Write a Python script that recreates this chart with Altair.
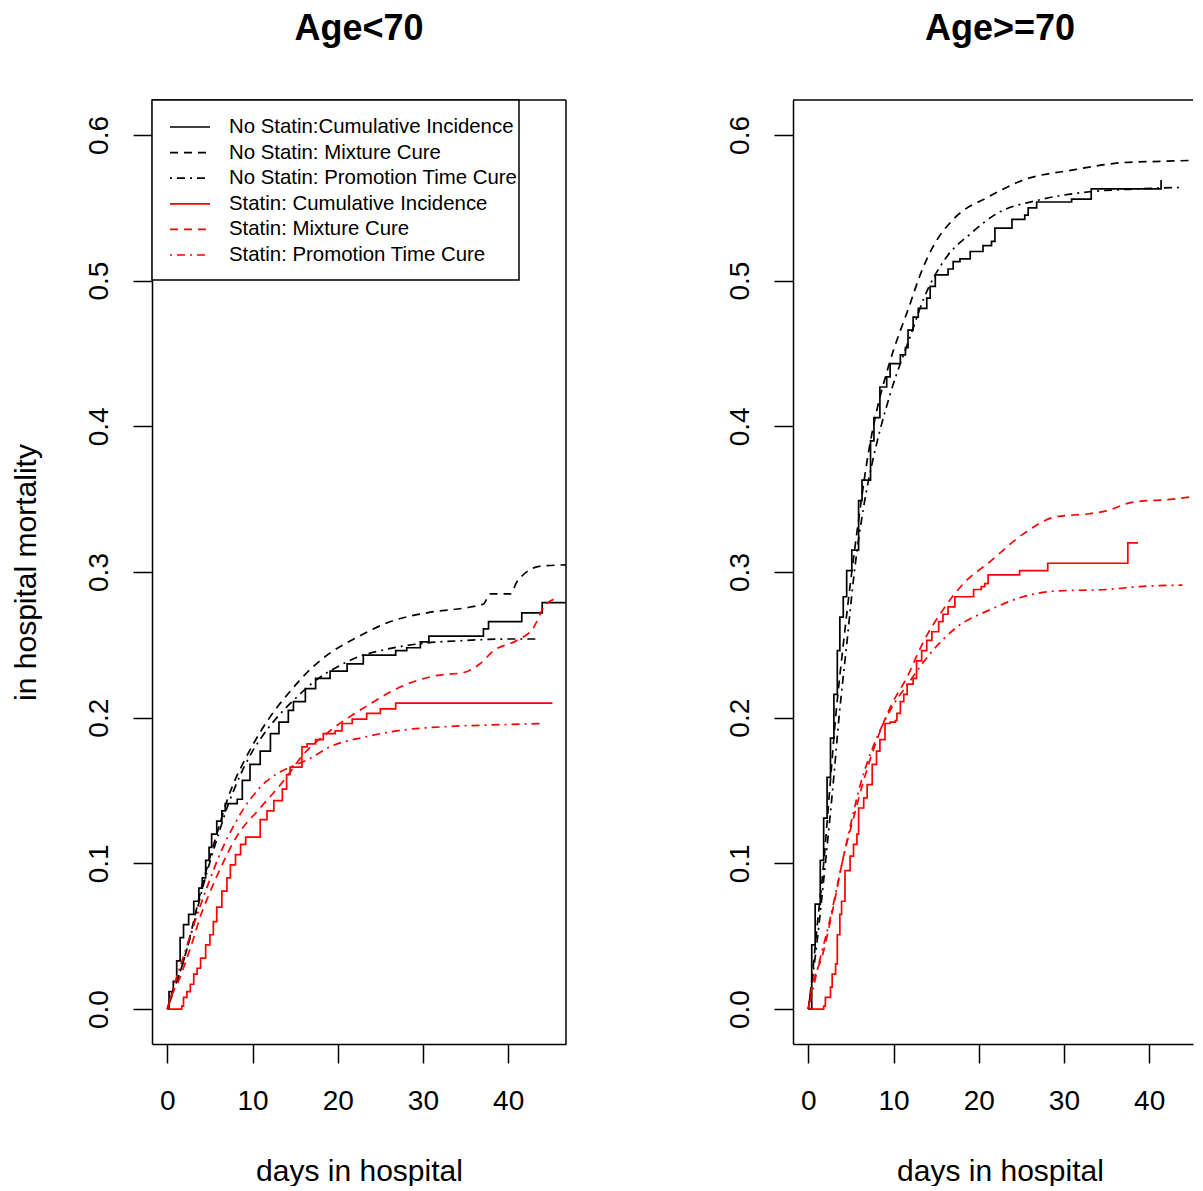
import altair as alt
import pandas as pd

FONT = "Liberation Sans"

SERIES = [
    "No Statin:Cumulative Incidence",
    "No Statin: Mixture Cure",
    "No Statin: Promotion Time Cure",
    "Statin: Cumulative Incidence",
    "Statin: Mixture Cure",
    "Statin: Promotion Time Cure",
]
COLORS = ["black", "black", "black", "red", "red", "red"]
DASHES = [[1, 0], [8, 6], [2, 5, 8, 5], [1, 0], [8, 6], [2, 5, 8, 5]]
STEP_SERIES = [SERIES[0], SERIES[3]]
PANELS = ["Age<70", "Age>=70"]
X_TICKS = [0, 10, 20, 30, 40]
Y_TICKS = [0.0, 0.1, 0.2, 0.3, 0.4, 0.5, 0.6]

# ---------------- Age<70 ----------------
y_ns_ci_day = [0, 0.2, 0.7, 1.1, 1.5, 1.9, 2.5, 3.1, 3.7, 4.1, 4.5, 4.9, 5.2, 5.8, 6.4, 6.8, 8.2, 8.8,
               9.7, 10.9, 12.1, 13.1, 14.2, 14.8, 16.2, 17.4, 19.1, 21.1, 23.0, 26.8, 28.1, 29.7, 30.7,
               37.1, 37.7, 41.6, 44.0, 47.5]
y_ns_ci_val = [0, 0.012, 0.019, 0.033, 0.049, 0.058, 0.065, 0.074, 0.083, 0.090, 0.102, 0.111, 0.120,
               0.129, 0.136, 0.141, 0.144, 0.157, 0.168, 0.177, 0.189, 0.197, 0.205, 0.211, 0.220, 0.227,
               0.232, 0.237, 0.243, 0.246, 0.248, 0.252, 0.256, 0.261, 0.266, 0.272, 0.279, 0.279]

y_ns_mix_day = [0, 0.5, 1.3, 2, 3, 4, 5, 6, 7, 8, 9, 10, 11, 12, 13, 14.4, 16.4, 19, 21.9, 26.2, 30.5,
                35.6, 37.1, 37.9, 40.3, 41.0, 43.8, 47.5]
y_ns_mix_val = [0, 0.01, 0.022, 0.035, 0.058, 0.083, 0.104, 0.124, 0.143, 0.158, 0.170, 0.181, 0.191,
                0.200, 0.208, 0.218, 0.231, 0.244, 0.254, 0.266, 0.272, 0.276, 0.278, 0.285, 0.285, 0.293,
                0.304, 0.305]

y_ns_ptc_day = [0, 1, 2, 3, 4, 5, 6, 7, 8, 9, 10, 11, 12, 13, 15, 17.5, 20, 22.5, 25, 27.5, 30, 35, 40, 43.6]
y_ns_ptc_val = [0, 0.017, 0.035, 0.056, 0.080, 0.101, 0.120, 0.138, 0.153, 0.166, 0.177, 0.186, 0.194,
                0.201, 0.213, 0.226, 0.235, 0.242, 0.246, 0.249, 0.251, 0.253, 0.254, 0.254]

y_s_ci_day = [0, 1.7, 1.9, 2.3, 2.7, 3.1, 3.5, 3.9, 4.5, 5.0, 5.4, 5.8, 6.4, 7.0, 7.4, 8.0, 8.6, 9.2,
              10.9, 11.7, 12.5, 13.5, 14.0, 14.4, 15.8, 16.4, 17.4, 18.3, 19.7, 20.5, 21.7, 23.4, 25.0,
              26.8, 45.2]
y_s_ci_val = [0, 0.002, 0.008, 0.012, 0.017, 0.024, 0.028, 0.035, 0.044, 0.051, 0.060, 0.070, 0.081,
              0.090, 0.099, 0.106, 0.113, 0.118, 0.130, 0.136, 0.143, 0.151, 0.161, 0.166, 0.180, 0.182,
              0.185, 0.189, 0.191, 0.196, 0.199, 0.203, 0.206, 0.210, 0.210]

y_s_mix_day = [0, 0.7, 1.3, 2.3, 3.1, 3.9, 4.7, 5.8, 8.2, 10.9, 13.7, 16.0, 19.1, 23.4, 27.7, 31.7, 34.8,
               36.7, 38.3, 41.0, 43.0, 44.2, 45.7]
y_s_mix_val = [0, 0.012, 0.019, 0.035, 0.049, 0.064, 0.076, 0.091, 0.119, 0.138, 0.157, 0.175, 0.191,
               0.208, 0.222, 0.229, 0.231, 0.237, 0.246, 0.253, 0.262, 0.276, 0.282]

y_s_ptc_day = [0, 1, 2, 3, 4, 5, 6, 7, 8, 9, 10, 11, 12, 13, 14.4, 16.4, 19.1, 23.4, 27, 33.2, 38, 44.2]
y_s_ptc_val = [0, 0.02, 0.038, 0.056, 0.073, 0.089, 0.104, 0.117, 0.128, 0.138, 0.146, 0.153, 0.158,
               0.162, 0.166, 0.171, 0.180, 0.187, 0.191, 0.194, 0.195, 0.196]

# ---------------- Age>=70 ----------------
o_ns_ci_day = [0, 0.4, 0.8, 1.4, 1.8, 2.2, 2.6, 3.0, 3.4, 3.7, 4.1, 4.5, 5.1, 5.9, 6.3, 7.3, 7.7, 8.4,
               9.2, 9.6, 10.8, 11.4, 11.7, 12.3, 12.9, 13.9, 14.3, 14.9, 16.4, 17.0, 17.8, 19.0, 20.5,
               21.5, 21.9, 23.9, 25.4, 25.8, 26.8, 30.9, 33.2, 41.4]
o_ns_ci_val = [0, 0.044, 0.072, 0.102, 0.131, 0.159, 0.186, 0.216, 0.246, 0.269, 0.283, 0.301, 0.315,
               0.349, 0.363, 0.390, 0.406, 0.427, 0.434, 0.443, 0.449, 0.454, 0.466, 0.475, 0.481, 0.488,
               0.496, 0.504, 0.508, 0.513, 0.515, 0.520, 0.524, 0.527, 0.536, 0.542, 0.545, 0.550, 0.554,
               0.556, 0.563, 0.569]

o_ns_mix_day = [0, 0.5, 1, 1.8, 2.5, 3.2, 4.1, 5.1, 6, 7, 8, 9.4, 12, 13, 14, 15, 17, 21.3, 25.2, 31.1,
                36.9, 42, 47.5]
o_ns_mix_val = [0, 0.025, 0.055, 0.1, 0.15, 0.2, 0.25, 0.3, 0.34, 0.38, 0.41, 0.441, 0.485, 0.502, 0.516,
                0.527, 0.542, 0.558, 0.569, 0.576, 0.581, 0.582, 0.583]

o_ns_ptc_day = [0, 1, 2, 3, 3.6, 4.5, 5.4, 6.5, 7.5, 8.4, 9.6, 12.1, 13.5, 16.2, 19, 22.1, 26.8, 33,
                38.9, 43.9]
o_ns_ptc_val = [0, 0.045, 0.1, 0.16, 0.2, 0.25, 0.3, 0.345, 0.375, 0.397, 0.422, 0.464, 0.487, 0.516,
                0.532, 0.546, 0.555, 0.561, 0.563, 0.564]

o_s_ci_day = [0, 1.8, 2.0, 2.6, 2.8, 3.2, 3.4, 3.7, 3.9, 4.3, 4.9, 5.3, 5.7, 5.9, 6.5, 6.9, 7.5, 8.0,
              8.4, 9.0, 9.6, 10.2, 10.4, 10.8, 11.2, 11.6, 12.3, 12.7, 13.3, 13.9, 14.5, 15.3, 15.8,
              16.4, 17.2, 19.4, 20.3, 20.7, 21.1, 24.8, 28.1, 37.5, 38.7]
o_s_ci_val = [0, 0.002, 0.008, 0.015, 0.024, 0.031, 0.051, 0.065, 0.074, 0.095, 0.105, 0.113, 0.120,
              0.138, 0.145, 0.154, 0.168, 0.177, 0.185, 0.196, 0.197, 0.198, 0.203, 0.211, 0.216, 0.223,
              0.227, 0.239, 0.246, 0.253, 0.259, 0.266, 0.271, 0.276, 0.283, 0.288, 0.290, 0.292, 0.298,
              0.301, 0.306, 0.320, 0.320]

o_s_mix_day = [0, 0.2, 1.8, 3.0, 4.1, 5.3, 6.5, 8.0, 9.6, 11.6, 13.5, 15.8, 18.2, 21.3, 25.2, 29.1,
               33.0, 35.0, 38.1, 42.8, 47.5]
o_s_mix_val = [0, 0.008, 0.040, 0.072, 0.104, 0.131, 0.157, 0.184, 0.207, 0.228, 0.252, 0.274, 0.292,
               0.307, 0.326, 0.338, 0.340, 0.342, 0.348, 0.350, 0.354]

o_s_ptc_day = [0, 1.4, 2.6, 3.7, 4.9, 6.1, 7.6, 9.6, 11.9, 14.3, 17.4, 21.3, 25.2, 29.1, 35.0, 38.9, 43.9]
o_s_ptc_val = [0, 0.035, 0.063, 0.093, 0.125, 0.154, 0.180, 0.205, 0.225, 0.244, 0.262, 0.274, 0.283,
               0.287, 0.288, 0.290, 0.291]

CURVES = [
    (PANELS[0], SERIES[0], y_ns_ci_day, y_ns_ci_val),
    (PANELS[0], SERIES[1], y_ns_mix_day, y_ns_mix_val),
    (PANELS[0], SERIES[2], y_ns_ptc_day, y_ns_ptc_val),
    (PANELS[0], SERIES[3], y_s_ci_day, y_s_ci_val),
    (PANELS[0], SERIES[4], y_s_mix_day, y_s_mix_val),
    (PANELS[0], SERIES[5], y_s_ptc_day, y_s_ptc_val),
    (PANELS[1], SERIES[0], o_ns_ci_day, o_ns_ci_val),
    (PANELS[1], SERIES[1], o_ns_mix_day, o_ns_mix_val),
    (PANELS[1], SERIES[2], o_ns_ptc_day, o_ns_ptc_val),
    (PANELS[1], SERIES[3], o_s_ci_day, o_s_ci_val),
    (PANELS[1], SERIES[4], o_s_mix_day, o_s_mix_val),
    (PANELS[1], SERIES[5], o_s_ptc_day, o_s_ptc_val),
]

rows = []
for panel_name, s, days, vals in CURVES:
    for i, (d, v) in enumerate(zip(days, vals)):
        rows.append({"panel": panel_name, "series": s, "day": d, "val": v, "idx": i})
df = pd.DataFrame(rows)

legend_df = pd.DataFrame({"series": SERIES, "row": list(range(len(SERIES)))})
one = pd.DataFrame({"k": [0]})

H = 944
LW = 1.7
PX_PER_DAY = 8.52
color_enc = alt.Color("series:N", scale=alt.Scale(domain=SERIES, range=COLORS), legend=None)
dash_enc = alt.StrokeDash("series:N", scale=alt.Scale(domain=SERIES, range=DASHES), legend=None)


def make_panel(name, width, left_panel):
    sub = df[df["panel"] == name]
    xmax = -1.8 + width / PX_PER_DAY
    xaxis_kw = dict(values=X_TICKS, title="days in hospital", titlePadding=41, labelPadding=24,
                    format="d")
    yaxis_kw = dict(values=Y_TICKS, format=".1f", labelPadding=20, labelAngle=-90,
                    labelAlign="center", labelBaseline="bottom")
    if left_panel:
        yaxis_kw.update(title="in hospital mortality", titlePadding=44)
    else:
        yaxis_kw.update(title=None)
        xaxis_kw.update(titleX=207)
    x = alt.X("day:Q", scale=alt.Scale(domain=[-1.8, xmax], nice=False, zero=False),
              axis=alt.Axis(**xaxis_kw))
    y = alt.Y("val:Q", scale=alt.Scale(domain=[-0.024, 0.624], nice=False, zero=False),
              axis=alt.Axis(**yaxis_kw))
    base = alt.Chart(sub)
    steps = base.transform_filter(
        alt.FieldOneOfPredicate(field="series", oneOf=STEP_SERIES)
    ).mark_line(interpolate="step-after", strokeWidth=LW, clip=True).encode(
        x=x, y=y, color=color_enc, strokeDash=dash_enc, order="idx:Q")
    smooth = base.transform_filter(
        ~alt.FieldOneOfPredicate(field="series", oneOf=STEP_SERIES)
    ).mark_line(interpolate="monotone", strokeWidth=LW, clip=True).encode(
        x=x, y=y, color=color_enc, strokeDash=dash_enc, order="idx:Q")
    top = alt.Chart(one).mark_rule(color="black", strokeWidth=1.5).encode(
        x=alt.value(0), x2=alt.value(width), y=alt.value(0))
    layers = [steps, smooth, top]
    if left_panel:
        right = alt.Chart(one).mark_rule(color="black", strokeWidth=1.5).encode(
            x=alt.value(width), y=alt.value(0), y2=alt.value(H))
        box = alt.Chart(one).mark_rect(fill="white", stroke="black", strokeWidth=1.5).encode(
            x=alt.value(0), x2=alt.value(367), y=alt.value(0), y2=alt.value(180))
        lg = alt.Chart(legend_df).transform_calculate(py="27 + datum.row * 25.6")
        samples = lg.mark_rule(strokeWidth=LW).encode(
            x=alt.value(18), x2=alt.value(58),
            y=alt.Y("py:Q", scale=None, axis=None),
            color=color_enc, strokeDash=dash_enc)
        labels = lg.mark_text(align="left", baseline="middle", fontSize=20.4, font=FONT,
                              color="black").encode(
            x=alt.value(77), y=alt.Y("py:Q", scale=None, axis=None), text="series:N")
        layers += [right, box, samples, labels]
    title = alt.Title(name, fontSize=36, font=FONT, fontWeight="bold", color="black",
                      offset=51, anchor="middle", dx=0 if left_panel else 7)
    return alt.layer(*layers).properties(width=width, height=H, title=title)


left = make_panel(PANELS[0], 414, True)
right = make_panel(PANELS[1], 400, False)

chart = alt.hconcat(left, right, spacing=227, bounds="flush").properties(
    padding={"left": 3, "top": 3, "right": 0, "bottom": 0},
    background="white",
).configure_view(stroke=None).configure_axis(
    grid=False, domain=True, domainColor="black", domainWidth=1.5,
    tickColor="black", tickWidth=1.5, tickSize=19,
    labelFont=FONT, labelFontSize=28, labelColor="black", labelFlush=False, labelOverlap=False,
    titleFont=FONT, titleFontSize=30, titleFontWeight="normal", titleColor="black",
)

chart.save("out.html", embed_options={"renderer": "svg", "actions": False})
